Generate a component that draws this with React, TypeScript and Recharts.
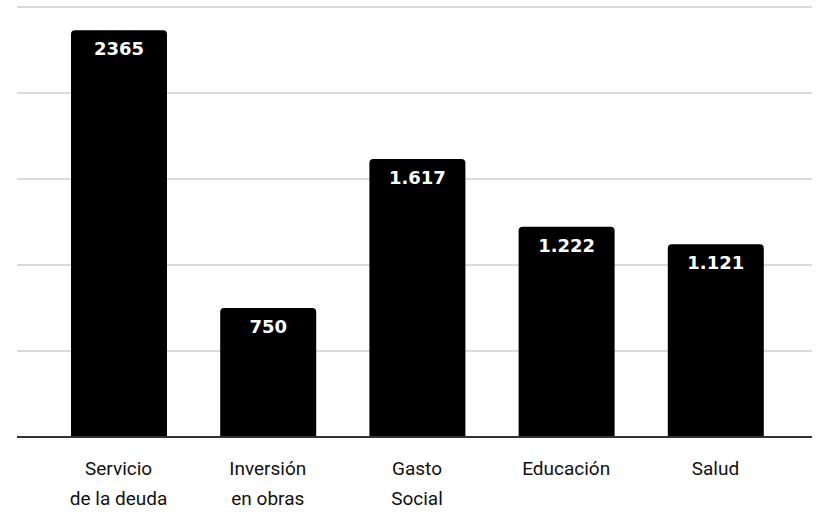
import React from 'react';
import { BarChart, Bar, XAxis, YAxis, CartesianGrid, LabelList } from 'recharts';

const categories = [
  ['Servicio', 'de la deuda'],
  ['Inversión', 'en obras'],
  ['Gasto', 'Social'],
  ['Educación'],
  ['Salud'],
];
const values = [2365, 750, 1617, 1222, 1121];
const valueLabels = ['2365', '750', '1.617', '1.222', '1.121'];
const yTicks = [0, 500, 1000, 1500, 2000, 2500];

const data = values.map((v, i) => ({
  name: categories[i].join(' '),
  value: v,
  label: valueLabels[i],
}));

function CategoryTick(props: any) {
  const { x, y, payload, index } = props;
  const lines = categories[index] || [payload.value];
  return (
    <text
      x={x}
      y={y}
      textAnchor="middle"
      fill="#111"
      fontSize={19}
      fontFamily="Roboto, 'Liberation Sans', sans-serif"
    >
      {lines.map((l: string, i: number) => (
        <tspan key={i} x={x} dy={30}>
          {l}
        </tspan>
      ))}
    </text>
  );
}

export default function App() {
  return (
    <div style={{ width: 827, height: 518, background: '#fff' }}>
      <style>{`body{margin:0}`}</style>
      <BarChart
        width={827}
        height={518}
        data={data}
        margin={{ top: 7, right: 15, left: 17, bottom: 0 }}
      >
        <CartesianGrid vertical={false} stroke="#cfcfcf" strokeWidth={1.5} />
        <YAxis hide domain={[0, 2500]} ticks={yTicks} />
        <XAxis
          dataKey="name"
          height={81}
          padding={{ left: 27, right: 22 }}
          axisLine={{ stroke: '#333', strokeWidth: 2 }}
          tickLine={false}
          interval={0}
          tick={<CategoryTick />}
        />
        <Bar
          dataKey="value"
          fill="#000"
          barSize={96}
          radius={[4, 4, 0, 0]}
          isAnimationActive={false}
        >
          <LabelList
            dataKey="label"
            position="insideTop"
            offset={12}
            fill="#fff"
            fontSize={18}
            fontWeight="bold"
            fontFamily="'DejaVu Sans', sans-serif"
          />
        </Bar>
      </BarChart>
    </div>
  );
}
